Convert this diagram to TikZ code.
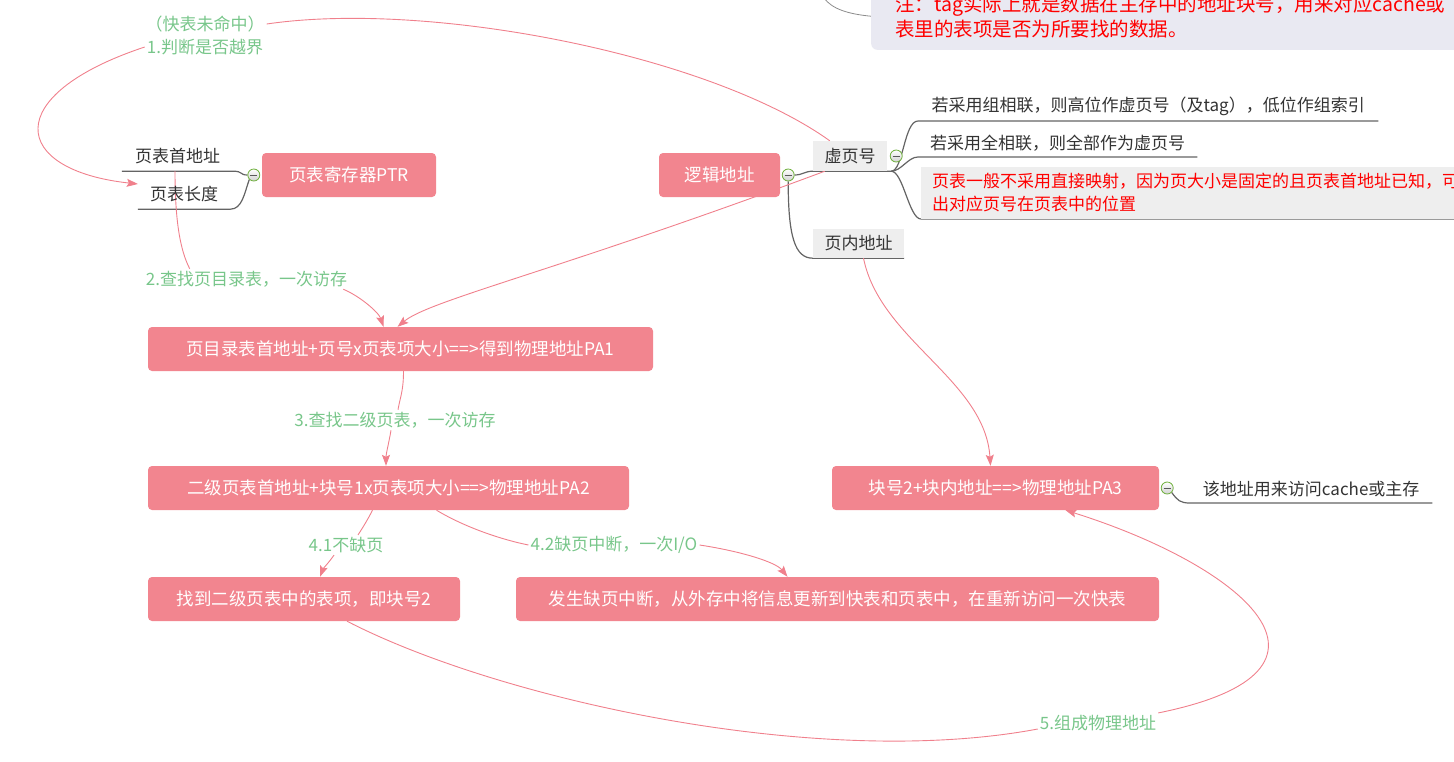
\documentclass[tikz,border=0pt]{standalone}
\usepackage{fontspec}
\setmainfont{Noto Sans CJK SC}
\usetikzlibrary{arrows.meta}
\pgfdeclarelayer{bg}
\pgfsetlayers{bg,main}
\definecolor{boxpink}{RGB}{242,133,143}
\definecolor{arrpink}{RGB}{240,128,140}
\definecolor{lblgreen}{RGB}{120,198,138}
\definecolor{brgray}{RGB}{100,100,100}
\definecolor{txtgray}{RGB}{51,51,51}
\definecolor{topicgray}{RGB}{238,238,238}
\definecolor{notefill}{RGB}{233,233,242}
\definecolor{foldgreen}{RGB}{110,175,60}
\tikzset{
 pbox/.style={fill=boxpink, rounded corners=4pt, text=white, font=\fontsize{17.5}{21}\selectfont, minimum height=44pt, inner sep=0pt},
 btxt/.style={text=txtgray, font=\fontsize{17}{20}\selectfont, inner sep=0pt, minimum height=30pt},
 topic/.style={btxt, fill=topicgray},
 lbl/.style={text=lblgreen, font=\fontsize{17}{20}\selectfont, inner sep=2pt},
 conn/.style={draw=arrpink, line width=0.9pt},
 arr/.style={conn, -{Stealth[length=11pt,width=8pt,inset=2pt]}},
 branch/.style={draw=brgray, line width=1.2pt},
 fold/.style={circle, draw=foldgreen, line width=0.8pt, minimum size=12pt, inner sep=0pt, top color=white, bottom color=black!18,
   path picture={\draw[black!65, line width=1pt] ([xshift=-3.5pt]path picture bounding box.center) -- ([xshift=3.5pt]path picture bounding box.center);}},
}
\begin{document}
\begin{tikzpicture}[x=1pt,y=-1pt]
\useasboundingbox (0,0) rectangle (1454,761);

% note box at top
\node[fill=notefill, rounded corners=6pt, anchor=south west, text=red, align=left, text width=600pt,
  inner xsep=24pt, inner ysep=12pt, font=\fontsize{19.5}{25}\selectfont] (note) at (871,50)
  {注：tag实际上就是数据在主存中的地址块号，用来对应cache或\\表里的表项是否为所要找的数据。};
\coordinate (topend) at (824,-2);

% main boxes
\node[pbox, minimum width=174pt] (ptr) at (349,175) {页表寄存器PTR};
\node[pbox, minimum width=121pt] (logic) at (719.5,175) {逻辑地址};
\node[pbox, minimum width=505pt] (pa1) at (400.5,349) {页目录表首地址+页号x页表项大小==>得到物理地址PA1};
\node[pbox, minimum width=481pt] (pa2) at (388.5,488) {二级页表首地址+块号1x页表项大小==>物理地址PA2};
\node[pbox, minimum width=312pt] (blk) at (304,599) {找到二级页表中的表项，即块号2};
\node[pbox, minimum width=643pt] (intr) at (837.5,599) {发生缺页中断，从外存中将信息更新到快表和页表中，在重新访问一次快表};
\node[pbox, minimum width=327pt] (pa3) at (995.5,488) {块号2+块内地址==>物理地址PA3};

% branch topics
\node[btxt, minimum width=111pt] (base) at (177.5,156) {页表首地址};
\node[btxt, minimum width=92pt] (len) at (184,194) {页表长度};
\node[topic, minimum width=74pt] (vpn) at (850,156) {虚页号};
\node[topic, minimum width=91pt, minimum height=29pt] (off) at (858.5,243.5) {页内地址};
\node[btxt, anchor=south west, minimum width=460pt, minimum height=28pt] (s1) at (918,121) {若采用组相联，则高位作虚页号（及tag），低位作组索引};
\node[btxt, anchor=south west, minimum width=279pt, minimum height=28pt] (s2) at (918,157) {若采用全相联，则全部作为虚页号};
\node[btxt, fill=topicgray, text=red, anchor=south west, align=left, text width=560pt, inner xsep=11pt,
  minimum height=52pt, font=\fontsize{17}{23}\selectfont] (s3) at (921,219)
  {页表一般不采用直接映射，因为页大小是固定的且页表首地址已知，可\\出对应页号在页表中的位置};
\node[btxt, anchor=south west, minimum width=242pt, minimum height=28pt] (s4) at (1190,503) {该地址用来访问cache或主存};

% fold buttons
\node[fold] (ptrf) at ([xshift=-8pt]ptr.west) {};
\node[fold] (logf) at ([xshift=8pt]logic.east) {};
\node[fold] (vpnf) at ([xshift=9pt]vpn.east) {};
\node[fold] (pa3f) at ([xshift=8pt]pa3.east) {};
\coordinate (vroot) at ([xshift=4pt]vpn.south east);

% labels
\node[lbl] (l1a) at (205,24) {（快表未命中）};
\node[lbl] (l1b) at (205,47) {1.判断是否越界};
\node[lbl] (l2) at (246.5,279) {2.查找页目录表，一次访存};
\node[lbl] (l3) at (395,420) {3.查找二级页表，一次访存};
\node[lbl] (l41) at (346,545) {4.1不缺页};
\node[lbl] (l42) at (614,545) {4.2缺页中断，一次I/O};
\node[lbl] (l5) at (1098,723) {5.组成物理地址};

\begin{pgfonlayer}{bg}
% gray branches
\draw[draw=black!45, line width=0.8pt] (topend) .. controls (832,9) and (848,14) .. (note.west);
\draw[branch] (ptrf.west) .. controls +(-8,0) and +(10,0) .. (base.south east) -- (base.south west);
\draw[branch] (ptrf.south west) .. controls +(-5,14) and +(12,0) .. (len.south east) -- (len.south west);
\draw[branch] (logf.east) .. controls +(8,0) and +(-8,0) .. (vpn.south west) -- (vroot);
\draw[branch] (vroot) .. controls +(12,0) and +(-14,0) .. (s1.south west) -- (s1.south east);
\draw[branch] (vroot) .. controls +(10,0) and +(-10,0) .. (s2.south west) -- (s2.south east);
\draw[branch] (vroot) .. controls +(12,0) and +(-12,0) .. (s3.south west) -- (s3.south east);
\draw[branch] (logf.south) .. controls +(0,55) and +(-18,0) .. (off.south west) -- (off.south east);
\draw[branch] (pa3f.south east) .. controls +(6,8) and +(-10,0) .. (s4.south west) -- (s4.south east);

% pink connectors
\draw[conn] ([xshift=17pt]vpn.north west) .. controls (710,55) and (430,0) .. (l1a.east);
\draw[arr] (l1b.west) .. controls (0,95) and (10,170) .. ([yshift=10pt]len.west);
\draw[arr] ([xshift=12pt]vpn.south west) .. controls (560,270) and (430,300) .. ([xshift=-3pt]pa1.north);
\draw[conn] ([xshift=-2.5pt]base.south) .. controls (175,220) and (180,250) .. ([xshift=46pt]l2.north west);
\draw[arr] ([xshift=-6pt]l2.south east) .. controls +(15,6) and +(-5,-15) .. ([xshift=-17pt]pa1.north);
\draw[conn] ([xshift=3pt]pa1.south) .. controls +(0,20) and +(2,-12) .. ([xshift=3pt]l3.north);
\draw[arr] ([xshift=-4pt]l3.south) .. controls +(-2,12) and +(0,-12) .. ([xshift=-2.5pt]pa2.north);
\draw[conn] ([xshift=-16pt]pa2.south) .. controls +(-4,8) and +(4,-6) .. ([xshift=12pt]l41.north);
\draw[arr] ([xshift=-12pt]l41.south) .. controls +(-4,6) and +(3,-8) .. ([xshift=16pt]blk.north);
\draw[conn] ([xshift=48pt]pa2.south) .. controls +(30,18) and +(-25,-5) .. (l42.west);
\draw[arr] (l42.east) .. controls +(40,6) and +(-12,-15) .. ([xshift=-50pt]intr.north);
\draw[arr] ([xshift=5pt]off.south) .. controls (880,340) and (985,380) .. ([xshift=-5pt]pa3.north);
\draw[conn] ([xshift=43pt]blk.south) .. controls (500,700) and (820,770) .. ([yshift=-6pt]l5.west);
\draw[arr] (l5.north east) .. controls (1370,670) and (1240,565) .. ([xshift=70pt]pa3.south);
\end{pgfonlayer}
\end{tikzpicture}
\end{document}
